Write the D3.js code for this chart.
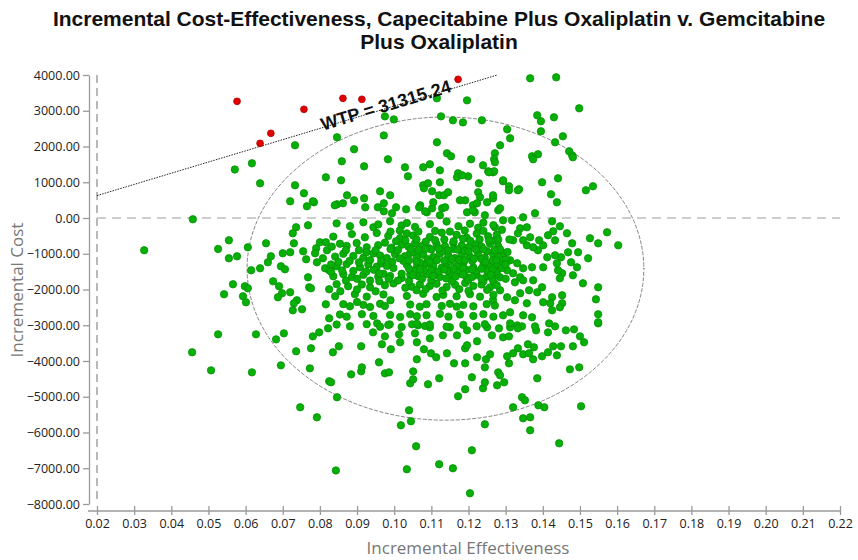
<!DOCTYPE html>
<html>
<head>
<meta charset="utf-8">
<script src="https://cdn.jsdelivr.net/npm/d3@7"></script>
<style>
  body { margin: 0; background: #fff; }
  svg { display: block; }
</style>
</head>
<body>
<div id="container"></div>
<script>
/* CONSTANTS AND GLOBALS */
const width = 858,
      height = 560;

const titleLines = [
  "Incremental Cost-Effectiveness, Capecitabine Plus Oxaliplatin v. Gemcitabine",
  "Plus Oxaliplatin"
];
const xLabel = "Incremental Effectiveness",
      yLabel = "Incremental Cost";

const xTicks = [0.02, 0.03, 0.04, 0.05, 0.06, 0.07, 0.08, 0.09, 0.10, 0.11, 0.12,
                0.13, 0.14, 0.15, 0.16, 0.17, 0.18, 0.19, 0.20, 0.21, 0.22];
const yTicks = [4000, 3000, 2000, 1000, 0, -1000, -2000, -3000, -4000, -5000, -6000, -7000, -8000];

const wtp = 31315.24;
// confidence ellipse: centre and half widths (effectiveness, cost)
const ellipseCenter = [0.1138, -1415];
const ellipseRadius = [0.0534, 4240];

// simulations above the WTP line (not cost-effective)
const redPoints = [
  [0.0577, 3264], [0.0639, 2089], [0.0668, 2369], [0.0757, 3040],
  [0.0862, 3348], [0.0913, 3320], [0.1172, 3879]
];

// simulations below the WTP line, [effectiveness, cost]
const greenPoints = [
  // left part
  [0.0571, 1357], [0.0617, 1530], [0.0733, 2034], [0.0639, 970], [0.0733, 915],
  [0.0720, 467], [0.0458, -36], [0.0327, -903], [0.0555, -624], [0.0526, -866],
  [0.0606, -819], [0.0655, -708], [0.0736, -260], [0.0727, -428], [0.0730, -708],
  [0.0700, -987], [0.0720, -959], [0.0555, -1127], [0.0577, -1071], [0.0668, -1071],
  [0.0765, 327], [0.0784, 439], [0.0768, -204], [0.0755, -931], [0.0790, -847],
  [0.0787, -987], [0.0800, -680], [0.0816, -680], [0.0819, -903], [0.0808, -1127],
  [0.0792, -1239], [0.0763, -1155], [0.0660, -1239], [0.0639, -1407], [0.0615, -1463],
  [0.0695, -1351], [0.0706, -1435], [0.0814, -1407], [0.0825, -1463], [0.0674, -1771],
  [0.0690, -1910], [0.0698, -2106], [0.0687, -2218], [0.0720, -2078], [0.0768, -1659],
  [0.0771, -1938], [0.0776, -1966], [0.0566, -1854], [0.0598, -1910], [0.0606, -1966],
  [0.0542, -2134], [0.0593, -2190], [0.0601, -2358], [0.0738, -2302], [0.0730, -2386],
  [0.0727, -2582], [0.0752, -2554], [0.0816, -2414], [0.0825, -1994], [0.0825, -2806],
  [0.0822, -3086], [0.0798, -3198], [0.0781, -3310], [0.0703, -3226], [0.0682, -3394],
  [0.0628, -3254], [0.0526, -3254], [0.0456, -3757], [0.0507, -4261], [0.0617, -4317],
  [0.0695, -4121], [0.0736, -3729], [0.0776, -3645], [0.0773, -4205], [0.0825, -4568],
  [0.0747, -5295], [0.0792, -5575],
  // bottom tail
  [0.0843, -7062], [0.1040, -5379], [0.1018, -5799], [0.1045, -5687], [0.1059, -6386],
  [0.1034, -7029], [0.1121, -6889], [0.1444, -6302], [0.1209, -6498], [0.1158, -7001],
  [0.1204, -7700], [0.1244, -5771], [0.0846, -5015], [0.1172, -4987], [0.1191, -4792],
  [0.1239, -4764], [0.1244, -4596], [0.1209, -4456], [0.1277, -4680], [0.1091, -4652],
  [0.1043, -4624], [0.1051, -4512], [0.1121, -4484], [0.1051, -4289], [0.0975, -4345],
  [0.0986, -4317], [0.0911, -4289], [0.0884, -4373], [0.0913, -4177], [0.0830, -4596],
  [0.0959, -4037], [0.1061, -3953], [0.1161, -4065], [0.1191, -4065], [0.1223, -3897],
  [0.1247, -3953], [0.1258, -3813], [0.1280, -4317], [0.0835, -3757], [0.0851, -3589],
  [0.0911, -3589], [0.0943, -3198], [0.0991, -3673], [0.0967, -3533], [0.0975, -3310],
  [0.1013, -3254], [0.1016, -3477], [0.1061, -3477], [0.1056, -3226], [0.1080, -3673],
  [0.1099, -3785], [0.1113, -3897], [0.1142, -3785], [0.1191, -3645], [0.1223, -3449],
  [0.1244, -4177], [0.1096, -3366], [0.1131, -3282], [0.1169, -3282], [0.1196, -3561],
  [0.1263, -3282], [0.1064, -3003], [0.1096, -3058], [0.1150, -3058], [0.1196, -3142],
  [0.1048, -2975], [0.0988, -2975], [0.0954, -2947], [0.1250, -3058],
  // lower right
  [0.1366, -5938], [0.1347, -5603], [0.1366, -5575], [0.1320, -5295], [0.1388, -5239],
  [0.1404, -5295], [0.1503, -5267], [0.1344, -5015], [0.1352, -5099], [0.1296, -4596],
  [0.1285, -4401], [0.1385, -4484], [0.1473, -4233], [0.1498, -4177], [0.1309, -4065],
  [0.1304, -3869], [0.1320, -3785], [0.1333, -3645], [0.1347, -3813], [0.1363, -3785],
  [0.1374, -3953], [0.1360, -3533], [0.1376, -3617], [0.1398, -3869], [0.1414, -3757],
  [0.1428, -3589], [0.1438, -3841], [0.1449, -3589], [0.1481, -3589], [0.1511, -3477],
  [0.1500, -3310], [0.1484, -3115], [0.1462, -3142], [0.1414, -3198], [0.1382, -3142],
  [0.1379, -3031], [0.1417, -2947], [0.1433, -3031], [0.1549, -2947], [0.1293, -3338],
  [0.1309, -3310], [0.1282, -3086], [0.1312, -3058], [0.1331, -3003], [0.1344, -3031],
  // upper right
  [0.1395, 2425], [0.1454, 2285], [0.1433, 2117], [0.1312, 2229], [0.1285, 2034],
  [0.1271, 1810], [0.1269, 1642], [0.1371, 1726], [0.1374, 1642], [0.1387, 1782],
  [0.1471, 1866], [0.1479, 1754], [0.1266, 1278], [0.1293, 1027], [0.1309, 887],
  [0.1336, 803], [0.1398, 998], [0.1441, 1110], [0.1516, 775], [0.1535, 887],
  [0.1422, 663], [0.1438, 439], [0.1266, 551], [0.1280, 215], [0.1347, 20],
  [0.1379, 132], [0.1436, 3935], [0.1366, 3907], [0.1498, 3068], [0.1385, 2873],
  [0.1395, 2705], [0.1430, 2817], [0.1481, 1698],
  // right side
  [0.1573, -400], [0.1603, -764], [0.1549, -708], [0.1527, -568], [0.1522, -1127],
  [0.1492, -1379], [0.1508, -1827], [0.1549, -1938], [0.1543, -2274], [0.1549, -2694],
  [0.1549, -2918], [0.1481, -1603], [0.1476, -1239], [0.1446, -232], [0.1425, -92],
  [0.1428, -372], [0.1465, -428], [0.1479, -708], [0.1495, -959], [0.1468, -959],
  [0.1449, -1099], [0.1433, -1043], [0.1438, -1267], [0.1452, -1547], [0.1441, -1463],
  [0.1446, -1687], [0.1452, -2162], [0.1452, -2386], [0.1446, -2498], [0.1425, -2218],
  [0.1420, -2386], [0.1425, -2582], [0.1401, -2358], [0.1398, -1938], [0.1374, -1743],
  [0.1363, -2022], [0.1385, -2078], [0.1357, -2386], [0.1371, -2778], [0.1347, -2722],
  [0.1333, -3086], [0.1312, -2947], [0.1293, -2722], [0.1312, -2638], [0.1325, -2302],
  [0.1339, -2106], [0.1304, -2218], [0.1285, -2022], [0.1266, -2302], [0.1269, -1827],
  [0.1285, -1659], [0.1320, -1547], [0.1339, -1659], [0.1347, -1407], [0.1371, -1379],
  [0.1401, -1379], [0.1412, -1099], [0.1401, -764], [0.1387, -903], [0.1374, -819],
  [0.1357, -764], [0.1366, -540], [0.1339, -288], [0.1333, -428], [0.1347, -624],
  [0.1320, -624], [0.1317, -64], [0.1293, -64], [0.1271, -260], [0.1271, -624],
  [0.1293, -987], [0.1277, -1099], [0.1312, -1183], [0.1331, -1267], [0.1293, -1267],
  [0.1263, -1267], [0.1277, -1463], [0.1304, -1463], [0.1325, -1799], [0.1347, -1743],
  [0.1357, -260], [0.1390, -624], [0.1414, -484], [0.1433, -624],
  // upper middle
  [0.1196, 3291], [0.1115, 3348], [0.0975, 2843], [0.0999, 2758], [0.0972, 2310],
  [0.1126, 2843], [0.1158, 2733], [0.1185, 2674], [0.1236, 2733], [0.1304, 2481],
  [0.1115, 2117], [0.1142, 1810], [0.1153, 1726], [0.1207, 1642], [0.1239, 1474],
  [0.1253, 1306], [0.1269, 1306], [0.1172, 1250], [0.1199, 1166], [0.1228, 970],
  [0.1293, 1054], [0.1123, 1334], [0.1096, 1502], [0.1078, 1418], [0.1029, 1418],
  [0.1037, 1166], [0.0983, 1642], [0.0919, 1446], [0.0859, 1586], [0.0892, 1922],
  [0.0846, 2257], [0.0816, 1138], [0.0857, 1054], [0.0757, 691], [0.0781, 467],
  [0.0873, 635], [0.0892, 495], [0.0846, 383], [0.0862, 411], [0.0919, 551],
  [0.0922, 299], [0.0962, 747], [0.0989, 635], [0.0972, 411], [0.0956, 299],
  [0.1005, 299], [0.1032, 243], [0.1078, 915], [0.1080, 831], [0.1102, 747],
  [0.1123, 998], [0.1121, 635], [0.1134, 635], [0.1145, 719], [0.1129, 271],
  [0.1070, 355], [0.1088, 159], [0.1102, 271], [0.1169, 1138], [0.1183, 1194],
  [0.1226, 719], [0.1231, 579], [0.1250, 439], [0.1266, 635], [0.1285, 271],
  [0.1212, 355], [0.1196, 159], [0.1217, 159], [0.1309, 775], [0.1333, 775],
  [0.1191, 495], [0.1271, 1558], [0.1255, 1278], [0.0840, 355], [0.0972, 187],
  [0.0994, 131], [0.1067, 299], [0.1083, 187], [0.1091, 970], [0.1105, 439],
  [0.1137, 299], [0.1123, 76], [0.1177, 495], [0.1212, 215], [0.1223, 411],
  [0.1244, 76],
  // dense centre, row by row
  [0.0845, -150], [0.0881, -230], [0.0917, -120], [0.0944, -260], [0.0957, -180],
  [0.0989, -90], [0.1020, -210], [0.1034, -140], [0.1056, -250], [0.1096, -170],
  [0.1141, -100], [0.1173, -230], [0.1204, -160], [0.1226, -270], [0.1240, -130],
  [0.1267, -200],
  [0.0836, -520], [0.0886, -450], [0.0921, -540], [0.0953, -420], [0.0984, -500],
  [0.1016, -560], [0.1034, -430], [0.1051, -490], [0.1096, -530], [0.1128, -410],
  [0.1168, -470], [0.1195, -550], [0.1222, -440], [0.1253, -510], [0.1276, -470],
  [0.0832, -800], [0.0854, -720], [0.0872, -780], [0.0899, -700], [0.0926, -820],
  [0.0957, -760], [0.0975, -690], [0.0993, -830], [0.1020, -750], [0.1038, -800],
  [0.1056, -710], [0.1074, -780], [0.1092, -840], [0.1114, -730], [0.1137, -790],
  [0.1159, -700], [0.1182, -770], [0.1200, -820], [0.1218, -740], [0.1235, -800],
  [0.1258, -720], [0.1280, -790],
  [0.0841, -1080], [0.0863, -1000], [0.0890, -1060], [0.0917, -1110], [0.0944, -990],
  [0.0962, -1050], [0.0980, -1120], [0.1002, -1010], [0.1029, -1070], [0.1043, -980],
  [0.1061, -1100], [0.1078, -1030], [0.1105, -1090], [0.1123, -1000], [0.1146, -1060],
  [0.1164, -1120], [0.1182, -1020], [0.1204, -1080], [0.1226, -1000], [0.1244, -1110],
  [0.1267, -1040], [0.1280, -1090],
  [0.0845, -1350], [0.0872, -1290], [0.0908, -1380], [0.0930, -1300], [0.0953, -1360],
  [0.0966, -1270], [0.0980, -1340], [0.0998, -1400], [0.1034, -1310], [0.1061, -1370],
  [0.1087, -1280], [0.1105, -1350], [0.1128, -1390], [0.1141, -1300], [0.1168, -1340],
  [0.1186, -1270], [0.1213, -1380], [0.1240, -1320], [0.1258, -1360], [0.1276, -1290],
  [0.0836, -1630], [0.0863, -1570], [0.0886, -1650], [0.0917, -1590], [0.0957, -1640],
  [0.0971, -1560], [0.0989, -1620], [0.1020, -1680], [0.1043, -1580], [0.1065, -1630],
  [0.1087, -1570], [0.1123, -1650], [0.1150, -1600], [0.1173, -1560], [0.1195, -1660],
  [0.1222, -1590], [0.1249, -1640], [0.1276, -1580],
  [0.0845, -1850], [0.0876, -1910], [0.0913, -1860], [0.0935, -1940], [0.0975, -1880],
  [0.0998, -1830], [0.1047, -1920], [0.1069, -1860], [0.1096, -1900], [0.1114, -1840],
  [0.1141, -1930], [0.1164, -1870], [0.1191, -1820], [0.1213, -1900], [0.1235, -1860],
  [0.1258, -1940], [0.1276, -1880],
  [0.0841, -2190], [0.0894, -2130], [0.0926, -2200], [0.0971, -2140], [0.1034, -2180],
  [0.1078, -2120], [0.1114, -2210], [0.1132, -2150], [0.1168, -2190], [0.1204, -2130],
  [0.1231, -2200], [0.1267, -2150],
  [0.0863, -2410], [0.0881, -2470], [0.0917, -2430], [0.0935, -2490], [0.0962, -2400],
  [0.0975, -2460], [0.1043, -2420], [0.1069, -2480], [0.1087, -2410], [0.1128, -2460],
  [0.1150, -2400], [0.1168, -2480], [0.1186, -2430], [0.1213, -2470], [0.1249, -2410],
  [0.1271, -2450],
  [0.0854, -2700], [0.0872, -2760], [0.0913, -2690], [0.0944, -2740], [0.0989, -2710],
  [0.1016, -2770], [0.1043, -2690], [0.1061, -2750], [0.1087, -2720], [0.1123, -2680],
  [0.1146, -2760], [0.1177, -2700], [0.1213, -2740], [0.1240, -2690], [0.1267, -2760],
  [0.0845, -2980], [0.0881, -3030], [0.0926, -2970], [0.0962, -3040], [0.0984, -2990],
  [0.1020, -3050], [0.1061, -2960], [0.1083, -3020], [0.1096, -2980], [0.1141, -3040],
  [0.1186, -2990], [0.1222, -3030], [0.1244, -2970],
  // extra fill of the solid core
  [0.1010, -900], [0.1025, -1200], [0.1050, -950], [0.1070, -1250], [0.1090, -1150],
  [0.1100, -880], [0.1115, -1180], [0.1130, -930], [0.1150, -1220], [0.1160, -870],
  [0.1175, -1170], [0.1190, -920], [0.1210, -1200], [0.1220, -880], [0.1235, -1150],
  [0.1250, -930], [0.1265, -1190], [0.1285, -880], [0.1300, -1160], [0.1110, -620],
  [0.1135, -600], [0.1160, -650], [0.1185, -580], [0.1205, -640], [0.1230, -600],
  [0.1255, -630], [0.1280, -600], [0.1055, -1480], [0.1080, -1460], [0.1120, -1500],
  [0.1145, -1470], [0.1170, -1520], [0.1195, -1450], [0.1220, -1490], [0.1250, -1470],
  [0.1275, -1500], [0.0935, -1180], [0.0950, -900], [0.0965, -1200], [0.0990, -870],
  [0.0995, -1220], [0.1010, -1750], [0.1040, -1760], [0.1100, -1740], [0.1155, -1760],
  [0.1200, -1730], [0.1240, -1770], [0.1265, -1720], [0.0890, -1480], [0.0925, -1500],
  [0.1005, -650], [0.1030, -620], [0.1060, -600], [0.1085, -660], [0.1045, -870],
  [0.1065, -900], [0.1085, -860], [0.1120, -850], [0.1145, -900], [0.1170, -880],
  [0.1200, -940], [0.1240, -870], [0.1270, -900],
  [0.1015, -1130], [0.1040, -1180], [0.1060, -1220], [0.1095, -1230], [0.1135, -1190],
  [0.1155, -1150], [0.1190, -1180], [0.1215, -1140], [0.1245, -1230], [0.1275, -1180],
  [0.1040, -1420], [0.1070, -1440], [0.1100, -1460], [0.1135, -1440], [0.1160, -1420],
  [0.1185, -1400], [0.1210, -1440], [0.1235, -1420], [0.1265, -1440], [0.1290, -1400],
  [0.1020, -1560], [0.1050, -1600], [0.1075, -1700], [0.1105, -1620], [0.1140, -1690],
  [0.1165, -1640], [0.1185, -1580], [0.1210, -1650], [0.1235, -1700], [0.1260, -1590],
  [0.1030, -1950], [0.1060, -2020], [0.1085, -1990], [0.1130, -2030], [0.1175, -1990],
  [0.1200, -2040], [0.1250, -2010],
  [0.0905, -900], [0.0925, -960], [0.0880, -1200], [0.0905, -1240], [0.0870, -900],
  [0.0850, -1230], [0.0830, -1300], [0.0860, -1470], [0.0830, -1500], [0.0945, -1450],
  [0.0960, -1550], [0.0900, -1700], [0.0935, -1750], [0.0960, -1770], [0.0985, -1700],
  [0.0870, -1750], [0.0855, -2050], [0.0900, -2000], [0.0950, -2050], [0.0990, -2300],
  [0.0900, -2350],
  [0.0990, -380], [0.1065, -380], [0.1110, -360], [0.1150, -380], [0.1190, -350],
  [0.1240, -360], [0.1290, -330], [0.1015, -350], [0.1300, -1300], [0.1300, -1700],
  [0.1305, -950], [0.1310, -600]
];

/* SCALES */
const xScale = d3.scaleLinear()
  .domain([0.02, 0.22])
  .range([97, 840]);

const yScale = d3.scaleLinear()
  .domain([-8000, 4000])
  .range([504, 75]);

/* SVG */
const svg = d3.select("#container")
  .append("svg")
  .attr("width", width)
  .attr("height", height)
  .style("font-family", "'Open Sans', 'Noto Sans', sans-serif");

// title
svg.append("g")
  .selectAll("text")
  .data(titleLines)
  .join("text")
    .attr("x", 439)
    .attr("y", (d, i) => 26 + i * 23)
    .attr("text-anchor", "middle")
    .style("font-family", "'Liberation Sans', Arial, sans-serif")
    .style("font-weight", "bold")
    .style("font-size", "21px")
    .attr("fill", "#111")
    .text(d => d);

/* AXES */
const yAxis = d3.axisLeft(yScale)
  .tickValues(yTicks)
  .tickFormat(d3.format(".2f"))
  .tickSizeInner(6)
  .tickSizeOuter(0)
  .tickPadding(3);

const gy = svg.append("g")
  .attr("transform", "translate(89,0)")
  .call(yAxis);

const xAxis = d3.axisBottom(xScale)
  .tickValues(xTicks)
  .tickFormat(d3.format(".2f"))
  .tickSizeInner(0)
  .tickSizeOuter(0)
  .tickPadding(8);

const gx = svg.append("g")
  .attr("transform", "translate(0,511)")
  .call(xAxis);

// x ticks cross the line, mostly above it
gx.selectAll(".tick line")
  .attr("y1", -5)
  .attr("y2", 4);
gx.select(".domain").attr("d", "M88,0H840");

[gx, gy].forEach(g => {
  g.select(".domain").attr("stroke", "#9a9a9a").attr("stroke-width", 1.3);
  g.selectAll(".tick line").attr("stroke", "#9a9a9a").attr("stroke-width", 1.3);
  g.selectAll(".tick text")
    .attr("fill", "#222")
    .style("font-size", "12.5px")
    .style("font-family", "'Open Sans', 'Noto Sans', sans-serif");
});

// axis titles
svg.append("text")
  .attr("x", 468)
  .attr("y", 554)
  .attr("text-anchor", "middle")
  .attr("fill", "#777")
  .style("font-size", "17px")
  .text(xLabel);

svg.append("text")
  .attr("transform", "translate(23,290) rotate(-90)")
  .attr("text-anchor", "middle")
  .attr("fill", "#777")
  .style("font-size", "17px")
  .text(yLabel);

/* REFERENCE LINES */
// dashed origin lines
svg.append("line")
  .attr("x1", xScale(0.02)).attr("x2", xScale(0.02))
  .attr("y1", yScale(4000)).attr("y2", yScale(-8000))
  .attr("stroke", "#8a8a8a")
  .attr("stroke-width", 1.2)
  .attr("stroke-dasharray", "8,5");

svg.append("line")
  .attr("x1", xScale(0.02)).attr("x2", xScale(0.22))
  .attr("y1", yScale(0)).attr("y2", yScale(0))
  .attr("stroke", "#bdbdbd")
  .attr("stroke-width", 1.3)
  .attr("stroke-dasharray", "9,6");

// confidence ellipse
const angles = d3.range(0, 361, 3).map(a => a * Math.PI / 180);
const ellipseLine = d3.line()
  .x(a => xScale(ellipseCenter[0] + ellipseRadius[0] * Math.cos(a)))
  .y(a => yScale(ellipseCenter[1] + ellipseRadius[1] * Math.sin(a)))
  .curve(d3.curveCardinalClosed);

svg.append("path")
  .attr("d", ellipseLine(angles))
  .attr("fill", "none")
  .attr("stroke", "#7a7a7a")
  .attr("stroke-width", 0.9)
  .attr("stroke-dasharray", "4,1.5");

// WTP line, clipped to the plot window
const wtpStart = [0.02, 0.02 * wtp];
const wtpEnd = [4000 / wtp, 4000];
svg.append("line")
  .attr("x1", xScale(wtpStart[0])).attr("y1", yScale(wtpStart[1]))
  .attr("x2", xScale(wtpEnd[0])).attr("y2", yScale(wtpEnd[1]))
  .attr("stroke", "#222")
  .attr("stroke-width", 1)
  .attr("stroke-dasharray", "1.5,1.2");

/* POINTS */
svg.append("g")
  .selectAll("circle")
  .data(greenPoints)
  .join("circle")
    .attr("cx", d => xScale(d[0]))
    .attr("cy", d => yScale(d[1]))
    .attr("r", 3.7)
    .attr("fill", "#06b006")
    .attr("stroke", "#079207")
    .attr("stroke-width", 0.8);

svg.append("g")
  .selectAll("circle")
  .data(redPoints)
  .join("circle")
    .attr("cx", d => xScale(d[0]))
    .attr("cy", d => yScale(d[1]))
    .attr("r", 3.4)
    .attr("fill", "#e00000")
    .attr("stroke", "#b00000")
    .attr("stroke-width", 0.8);

// WTP label along the line
const labelEff = 0.098;
const px0 = xScale(labelEff), py0 = yScale(labelEff * wtp);
const angle = Math.atan2(yScale(wtpEnd[1]) - yScale(wtpStart[1]),
                         xScale(wtpEnd[0]) - xScale(wtpStart[0])) * 180 / Math.PI;
svg.append("text")
  .attr("transform", `translate(${px0},${py0}) rotate(${angle})`)
  .attr("dy", 3)
  .attr("text-anchor", "middle")
  .style("font-family", "'Liberation Sans', Arial, sans-serif")
  .style("font-weight", "bold")
  .style("font-size", "18px")
  .attr("fill", "#111")
  .text("WTP = " + wtp.toFixed(2));
</script>
</body>
</html>
